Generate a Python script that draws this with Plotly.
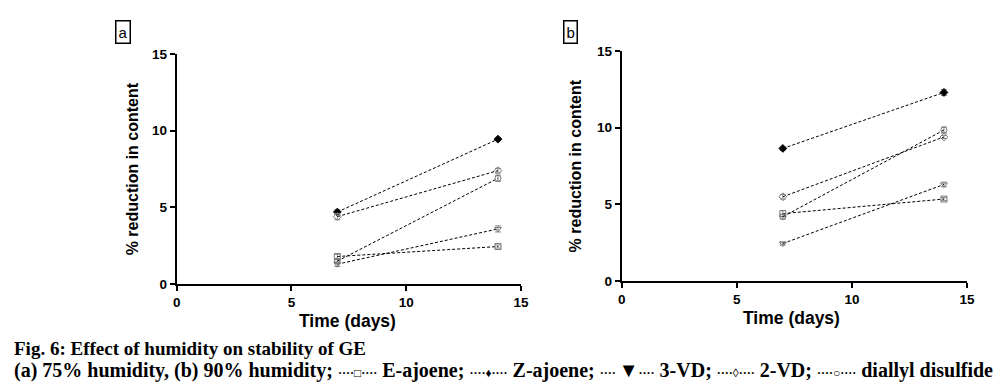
import plotly.graph_objects as go

days = [7, 14]
series = ["E-ajoene", "Z-ajoene", "3-VD", "2-VD", "diallyl disulfide"]

# Panel a: 75% humidity
a_e_ajoene = [1.8, 2.45]
a_z_ajoene = [4.7, 9.45]
a_3vd = [1.3, 3.6]
a_2vd = [4.4, 7.4]
a_dds = [1.5, 6.9]
a_err = [[0.15, 0.1], [0.15, 0.1], [0.15, 0.2], [0.2, 0.15], [0.15, 0.2]]

# Panel b: 90% humidity
b_e_ajoene = [4.4, 5.35]
b_z_ajoene = [8.65, 12.3]
b_3vd = [2.45, 6.3]
b_2vd = [5.5, 9.4]
b_dds = [4.2, 9.85]
b_err = [[0.2, 0.1], [0.1, 0.2], [0.1, 0.15], [0.15, 0.1], [0.15, 0.2]]

x_ticks = [0, 5, 10, 15]
y_ticks = [0, 5, 10, 15]

symbols = ["square-open", "diamond", "triangle-down-open", "diamond-open", "circle-open"]
mcolors = ["#777777", "#000000", "#777777", "#777777", "#777777"]

# figure size and page offset
W, H = 990, 374
OX, OY = 8, 8


def cx(x):
    return 5 + (x - 10) / 0.99


def cy(y):
    return 33 + (y - 40) / 0.9555


def fx(x):
    return (cx(x) - OX) / W


def fy(y):
    return 1 - (cy(y) - OY) / H


fig = go.Figure()

panel_a = [a_e_ajoene, a_z_ajoene, a_3vd, a_2vd, a_dds]
panel_b = [b_e_ajoene, b_z_ajoene, b_3vd, b_2vd, b_dds]

for vals, errs, xa, ya in [(panel_a, a_err, "x", "y"), (panel_b, b_err, "x2", "y2")]:
    for i, name in enumerate(series):
        fig.add_trace(go.Scatter(
            x=days, y=vals[i], name=name, xaxis=xa, yaxis=ya,
            mode="lines+markers",
            line=dict(color="#000000", width=1, dash="3px,2px"),
            marker=dict(symbol=symbols[i], size=6, color=mcolors[i],
                        line=dict(color=mcolors[i], width=1)),
            error_y=dict(type="data", array=errs[i], visible=True,
                         color="#888888", thickness=1, width=3),
            showlegend=False, cliponaxis=False,
        ))

tickfont = dict(family="Liberation Sans, Arial", size=13.5, color="black", weight="bold")
common_x = dict(range=[0, 15], tickvals=x_ticks, ticks="outside", ticklen=5, tickwidth=2,
                tickcolor="black", showline=True, linewidth=2, linecolor="black",
                showgrid=False, zeroline=False, tickfont=tickfont)
common_y = dict(range=[0, 15], tickvals=y_ticks, ticks="outside", ticklen=5, tickwidth=2,
                tickcolor="black", showline=True, linewidth=2, linecolor="black",
                showgrid=False, zeroline=False, tickfont=tickfont)

fig.update_layout(
    width=W, height=H, margin=dict(l=0, r=0, t=0, b=0),
    paper_bgcolor="white", plot_bgcolor="white",
    xaxis=dict(domain=[fx(178), fx(523)], anchor="y", **common_x),
    yaxis=dict(domain=[fy(284), fy(55)], anchor="x", **common_y),
    xaxis2=dict(domain=[fx(624), fx(970)], anchor="y2", **common_x),
    yaxis2=dict(domain=[fy(281), fy(52)], anchor="x2", **common_y),
)

ytitlefont = dict(family="Liberation Sans, Arial", size=16, color="black")
xtitlefont = dict(family="Liberation Sans, Arial", size=17.5, color="black")
ann = []
for xc, yc in [(134, 169), (578, 166)]:
    ann.append(dict(x=fx(xc), y=fy(yc), xref="paper", yref="paper", text="<b>% reduction in content</b>",
                    textangle=-90, showarrow=False, font=ytitlefont, xanchor="center", yanchor="middle"))
for xc, yc in [(349, 321), (794, 318)]:
    ann.append(dict(x=fx(xc), y=fy(yc), xref="paper", yref="paper", text="<b>Time (days)</b>",
                    showarrow=False, font=xtitlefont, xanchor="center", yanchor="middle"))
for lbl, xc, yc in [("a", 124.5, 33), ("b", 573, 33)]:
    ann.append(dict(x=fx(xc), y=fy(yc), xref="paper", yref="paper", text=lbl, showarrow=False,
                    font=dict(family="Liberation Sans, Arial", size=15, color="black"),
                    bordercolor="black", borderwidth=1.5, borderpad=2, bgcolor="white",
                    xanchor="center", yanchor="middle"))

capfont1 = dict(family="Liberation Serif, Times New Roman", size=19, color="black")
capfont = dict(family="Liberation Serif, Times New Roman", size=20, color="black")
small = '<span style="font-size:12px">'
ann.append(dict(x=fx(13), y=fy(348), xref="paper", yref="paper", showarrow=False,
                text="<b>Fig. 6: Effect of humidity on stability of GE</b>",
                font=capfont1, xanchor="left", yanchor="middle"))
line2 = ("<b>(a) 75% humidity, (b) 90% humidity; "
         + small + "····□····</span> E-ajoene; "
         + small + "····♦····</span> Z-ajoene; "
         + small + "···· </span>▼" + small + "····</span> 3-VD; "
         + small + "····◊····</span> 2-VD; "
         + small + "····○····</span> diallyl disulfide</b>")
ann.append(dict(x=fx(13), y=fy(370), xref="paper", yref="paper", showarrow=False,
                text=line2, font=capfont, xanchor="left", yanchor="middle"))
fig.update_layout(annotations=ann)

fig.write_html("out.html")
